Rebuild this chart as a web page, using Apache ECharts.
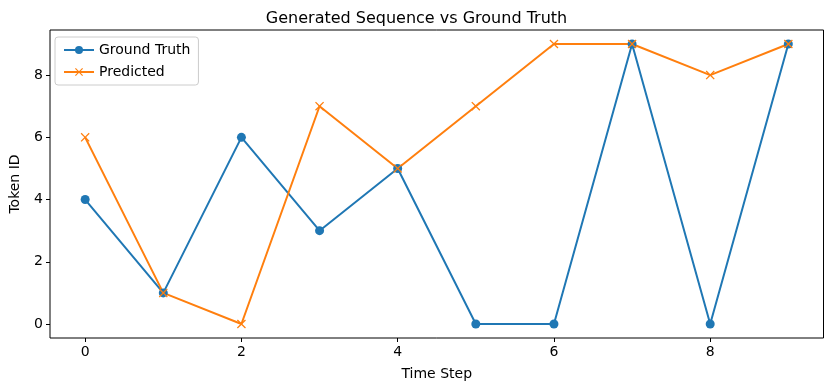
<!DOCTYPE html>
<html><head><meta charset="utf-8">
<script src="https://cdn.jsdelivr.net/npm/echarts@6/dist/echarts.min.js"></script>
<style>html,body{margin:0;padding:0;background:#fff}#c{width:833px;height:391px}</style>
</head><body><div id="c"></div>
<script>
const steps = [0,1,2,3,4,5,6,7,8,9];
const groundTruth = [4,1,6,3,5,0,0,9,0,9];
const predicted = [6,1,0,7,5,7,9,9,8,9];
const xTicks = [0,2,4,6,8];
const yTicks = [0,2,4,6,8];

const font = 'DejaVu Sans';
const chart = echarts.init(document.getElementById('c'), null, {renderer:'canvas'});
const crossPath = 'path://M0,1 L1,0 L5,4 L9,0 L10,1 L6,5 L10,9 L9,10 L5,6 L1,10 L0,9 L4,5 Z';
chart.setOption({
  animation:false,
  backgroundColor:'#fff',
  title:{text:'Generated Sequence vs Ground Truth', left:'center', top:6,
    textStyle:{fontFamily:font, fontSize:16, fontWeight:'normal', color:'#000'}},
  grid:{left:48, top:30, right:9.5, bottom:53, show:true, borderColor:'#000', borderWidth:1, backgroundColor:'transparent'},
  legend:{orient:'vertical', left:55, top:37, backgroundColor:'#fff', borderColor:'#cccccc', borderWidth:1,
    borderRadius:3, padding:[6,8,6,8], itemWidth:30, itemHeight:10, itemGap:8,
    textStyle:{fontFamily:font, fontSize:14, color:'#000'},
    data:['Ground Truth','Predicted']},
  xAxis:{type:'value', min:-0.45, max:9.45, name:'Time Step', nameLocation:'middle', nameGap:29,
    nameTextStyle:{fontFamily:font, fontSize:14, color:'#000'},
    axisLine:{show:false, onZero:false}, splitLine:{show:false},
    axisTick:{show:true, inside:false, length:4, lineStyle:{color:'#000'}, customValues:xTicks},
    axisLabel:{fontFamily:font, fontSize:14, color:'#000', margin:7, customValues:xTicks}},
  yAxis:{type:'value', min:-0.45, max:9.45, name:'Token ID', nameLocation:'middle', nameGap:28, nameRotate:90,
    nameTextStyle:{fontFamily:font, fontSize:14, color:'#000'},
    axisLine:{show:false, onZero:false}, splitLine:{show:false},
    axisTick:{show:true, inside:false, length:4, lineStyle:{color:'#000'}, customValues:yTicks},
    axisLabel:{fontFamily:font, fontSize:14, color:'#000', margin:7, customValues:yTicks}},
  series:[
    {name:'Ground Truth', type:'line', data:steps.map((s,i)=>[s,groundTruth[i]]),
     symbol:'circle', symbolSize:9, lineStyle:{color:'#1f77b4', width:2},
     itemStyle:{color:'#1f77b4'}},
    {name:'Predicted', type:'line', data:steps.map((s,i)=>[s,predicted[i]]),
     symbol:crossPath, symbolSize:9, lineStyle:{color:'#ff7f0e', width:2},
     itemStyle:{color:'#ff7f0e'}}
  ]
});
</script></body></html>
